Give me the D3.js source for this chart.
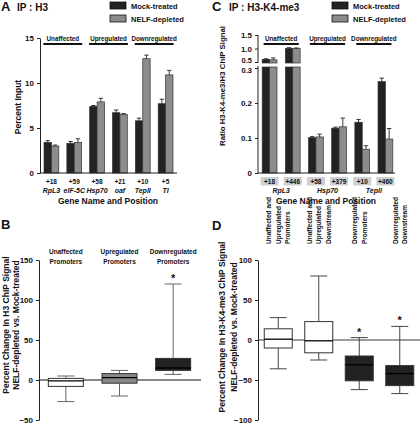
<!DOCTYPE html>
<html><head><meta charset="utf-8">
<script src="https://cdn.jsdelivr.net/npm/d3@7"></script>
<style>
body{margin:0;background:#fff;}
svg text{font-family:"Liberation Sans",Arial,Helvetica,sans-serif;font-weight:bold;fill:#111;}
</style></head>
<body><svg id="c" width="420" height="428"></svg>
<script>
// ---------- Panel A data ----------
const posA = ["+18","+59","+58","+21","+10","+5"];
const genesA = ["RpL3","eIF-5C","Hsp70","oaf","TepII","TI"];
const mockA = [3.4,3.3,7.4,6.7,5.8,7.7];
const mockErrA = [0.2,0.2,0.1,0.3,0.3,0.5];
const nelfA = [3.0,3.4,7.9,6.5,12.7,10.9];
const nelfErrA = [0.1,0.4,0.4,0.1,0.4,0.5];
const ticksA = [0,5,10,15];
const regCats = ["Unaffected","Upregulated","Downregulated"];
const regSpans = [[0,1],[2,3],[4,5]];
// ---------- Panel C data ----------
const posC = ["+18","+446","+58","+379","+10","+460"];
const genesC = ["RpL3","Hsp70","TepII"];
const mockC = [0.60,1.00,0.101,0.128,0.145,0.261];
const mockErrC = [0.02,0.03,0.003,0.003,0.008,0.01];
const nelfC = [0.58,1.00,0.103,0.132,0.068,0.097];
const nelfErrC = [0.07,0.02,0.008,0.025,0.01,0.03];
const ticksCLow = [0,0.1,0.2,0.3];
const ticksCHigh = [0.5,1.0,1.5];
// ---------- Panel B data ----------
const groupsB = [["Unaffected","Promoters"],["Upregulated","Promoters"],["Downregulated","Promoters"]];
const minB = [-27,-20,7];
const q1B = [-8,-4,12];
const medB = [-1,3,15];
const q3B = [2,8,27];
const maxB = [5,12,120];
const starB = [false,false,true];
const ticksB = [-50,0,50,100,150];
// ---------- Panel D data ----------
const groupsD = [["Unaffected and","Upregulated","Promoters"],["Unaffected and","Upregulated","Downstream"],["Downregulated","Promoters"],["Downregulated","Downstream"]];
const minD = [-36,-25,-62,-67];
const q1D = [-10,-16,-51,-57];
const medD = [1,-1,-31,-42];
const q3D = [14,23,-20,-32];
const maxD = [28,80,3,17];
const starD = [false,false,true,true];
const ticksD = [-100,-50,0,50,100];
const legendLabels = ["Mock-treated","NELF-depleted"];

const DARK = "#222", GREY = "#8c8c8c";
const svg = d3.select("#c");

function vlabel(g, lines, x0, dx, yc, size){
  lines.forEach((t,i)=>{
    g.append("text").attr("transform",`translate(${x0+i*dx},${yc}) rotate(-90)`)
     .attr("text-anchor","middle").attr("font-size",size).text(t);
  });
}
function styleAxis(ax){
  ax.selectAll("path,line").attr("stroke","#222").attr("stroke-width",1);
  ax.selectAll("text").attr("font-size",8).attr("font-family","Liberation Sans,Arial,sans-serif").attr("font-weight","bold").attr("fill","#111");
}
function legend(x, y){
  const cols=[DARK,GREY];
  legendLabels.forEach((l,i)=>{
    svg.append("rect").attr("x",x).attr("y",y+i*13).attr("width",16).attr("height",7)
      .attr("fill",cols[i]).attr("stroke","#111").attr("stroke-width",0.8);
    svg.append("text").attr("x",x+21).attr("y",y+7+i*13).attr("font-size",7.5).text(l);
  });
}
function bars(g, x, yfun, vals, errs, off, col){
  const bw=7.4;
  vals.forEach((v,i)=>{
    const cx = x(i)+off;
    yfun(g, cx-bw/2, bw, v, col);
    const top = yTop(v), et = yTop(v+errs[i]);
    g.append("line").attr("x1",cx).attr("x2",cx).attr("y1",top).attr("y2",et).attr("stroke","#222").attr("stroke-width",0.9);
    g.append("line").attr("x1",cx-2.2).attr("x2",cx+2.2).attr("y1",et).attr("y2",et).attr("stroke","#222").attr("stroke-width",0.9);
  });
}
let yTop;

// ================= Panel A =================
{
  const x = d3.scalePoint().domain(d3.range(posA.length)).range([40,177]).padding(0.5);
  const y = d3.scaleLinear().domain([0,15]).range([173,38]);
  const g = svg.append("g");
  svg.append("text").attr("x",1).attr("y",11).attr("font-size",13).text("A");
  svg.append("text").attr("x",17).attr("y",11).attr("font-size",10).text("IP : H3");
  legend(110,2);
  yTop = v=>y(v);
  const drawBar=(g,x0,w,v,col)=>g.append("rect").attr("x",x0).attr("y",y(v)).attr("width",w).attr("height",y(0)-y(v)).attr("fill",col).attr("stroke","#333").attr("stroke-width",0.7);
  bars(g,x,drawBar,mockA,mockErrA,-3.7,DARK);
  bars(g,x,drawBar,nelfA,nelfErrA,3.7,GREY);
  const ax = g.append("g").attr("transform","translate(40,0)").call(d3.axisLeft(y).tickValues(ticksA).tickSize(3).tickSizeOuter(0));
  styleAxis(ax);
  g.append("line").attr("x1",40).attr("x2",177).attr("y1",173).attr("y2",173).attr("stroke","#222");
  posA.forEach((p,i)=>{
    g.append("text").attr("x",x(i)).attr("y",184).attr("text-anchor","middle").attr("font-size",6.5).text(p);
    g.append("text").attr("x",x(i)).attr("y",193).attr("text-anchor","middle").attr("font-size",7).attr("font-style","italic").text(genesA[i]);
  });
  g.append("text").attr("x",108).attr("y",204).attr("text-anchor","middle").attr("font-size",8.5).text("Gene Name and Position");
  vlabel(g,["Percent Input"],21,0,107,8.5);
  regCats.forEach((c,i)=>{
    const a=x(regSpans[i][0])-8, b=x(regSpans[i][1])+8;
    g.append("line").attr("x1",a).attr("x2",b).attr("y1",44).attr("y2",44).attr("stroke","#111").attr("stroke-width",2);
    g.append("text").attr("x",(a+b)/2).attr("y",41).attr("text-anchor","middle").attr("font-size",6.3).text(c);
  });
}

// ================= Panel C =================
{
  const x = d3.scalePoint().domain(d3.range(posC.length)).range([258,397]).padding(0.5);
  const yL = d3.scaleLinear().domain([0,0.3]).range([173,68]);
  const yU = d3.scaleLinear().domain([0.5,1.5]).range([62,35]);
  const g = svg.append("g");
  svg.append("text").attr("x",212).attr("y",11).attr("font-size",13).text("C");
  svg.append("text").attr("x",229).attr("y",11).attr("font-size",10).text("IP : H3-K4-me3");
  legend(332,2);
  yTop = v=> v<=0.3 ? yL(v) : yU(v);
  const drawBar=(g,x0,w,v,col)=>{
    if(v<=0.3){
      g.append("rect").attr("x",x0).attr("y",yL(v)).attr("width",w).attr("height",yL(0)-yL(v)).attr("fill",col).attr("stroke","#333").attr("stroke-width",0.7);
    } else {
      g.append("rect").attr("x",x0).attr("y",yL(0.3)-1).attr("width",w).attr("height",yL(0)-yL(0.3)+1).attr("fill",col).attr("stroke","#333").attr("stroke-width",0.7);
      g.append("rect").attr("x",x0).attr("y",yU(v)).attr("width",w).attr("height",yU(0.5)-yU(v)+1).attr("fill",col).attr("stroke","#333").attr("stroke-width",0.7);
    }
  };
  bars(g,x,drawBar,mockC,mockErrC,-3.7,DARK);
  bars(g,x,drawBar,nelfC,nelfErrC,3.7,GREY);
  const fmt = d=> d===0?"0":d3.format(".1f")(d);
  const ax1 = g.append("g").attr("transform","translate(258,0)").call(d3.axisLeft(yL).tickValues(ticksCLow).tickFormat(fmt).tickSize(3).tickSizeOuter(0));
  styleAxis(ax1);
  ax1.select(".domain").attr("d","M0,173V66");
  ax1.selectAll(".tick text").filter(d=>d===0.3).attr("dy","0.55em").attr("font-size",7.5);
  const ax2 = g.append("g").attr("transform","translate(258,0)").call(d3.axisLeft(yU).tickValues(ticksCHigh).tickFormat(fmt).tickSize(3).tickSizeOuter(0));
  styleAxis(ax2);
  ax2.select(".domain").attr("d","M0,63V35");
  ax2.selectAll(".tick text").filter(d=>d===0.5).attr("dy","0.1em").attr("font-size",7.5);
  g.append("line").attr("x1",258).attr("x2",395).attr("y1",173).attr("y2",173).attr("stroke","#222");
  posC.forEach((p,i)=>{
    g.append("rect").attr("x",x(i)-9).attr("y",177).attr("width",18).attr("height",8.5).attr("fill","#cfcfcf");
    g.append("text").attr("x",x(i)).attr("y",184).attr("text-anchor","middle").attr("font-size",6.5).text(p);
  });
  genesC.forEach((gn,i)=>{
    const cx=(x(2*i)+x(2*i+1))/2;
    g.append("text").attr("x",cx).attr("y",193).attr("text-anchor","middle").attr("font-size",7).attr("font-style","italic").text(gn);
  });
  g.append("text").attr("x",326).attr("y",204).attr("text-anchor","middle").attr("font-size",8.5).text("Gene Name and Position");
  vlabel(g,["Ratio H3-K4-me3/H3 ChIP Signal"],225,0,86,7.8);
  regCats.forEach((c,i)=>{
    const a=x(regSpans[i][0])-6, b=x(regSpans[i][1])+6;
    g.append("line").attr("x1",a).attr("x2",b).attr("y1",44).attr("y2",44).attr("stroke","#111").attr("stroke-width",2);
    g.append("text").attr("x",(a+b)/2).attr("y",41).attr("text-anchor","middle").attr("font-size",6.3).text(c);
  });
}

function boxes(g, x, y, mins, q1s, meds, q3s, maxs, fills, bw, capw, wcol, stars){
  mins.forEach((mn,i)=>{
    const cx=x(i);
    g.append("line").attr("x1",cx).attr("x2",cx).attr("y1",y(mn)).attr("y2",y(q1s[i])).attr("stroke",wcol).attr("stroke-width",1);
    g.append("line").attr("x1",cx).attr("x2",cx).attr("y1",y(q3s[i])).attr("y2",y(maxs[i])).attr("stroke",wcol).attr("stroke-width",1);
    [mn,maxs[i]].forEach(v=>g.append("line").attr("x1",cx-capw/2).attr("x2",cx+capw/2).attr("y1",y(v)).attr("y2",y(v)).attr("stroke",wcol).attr("stroke-width",1));
    g.append("rect").attr("x",cx-bw/2).attr("y",y(q3s[i])).attr("width",bw).attr("height",y(q1s[i])-y(q3s[i])).attr("fill",fills[i]).attr("stroke","#333").attr("stroke-width",1);
    g.append("line").attr("x1",cx-bw/2).attr("x2",cx+bw/2).attr("y1",y(meds[i])).attr("y2",y(meds[i])).attr("stroke","#000").attr("stroke-width",1.3);
    if(stars[i]) g.append("text").attr("x",cx).attr("y",y(maxs[i])-2).attr("text-anchor","middle").attr("font-size",11).text("*");
  });
}

// ================= Panel B =================
{
  const x = d3.scalePoint().domain(d3.range(groupsB.length)).range([39,200]).padding(0.5);
  const y = d3.scaleLinear().domain([-50,150]).range([420,260]);
  const g = svg.append("g");
  svg.append("text").attr("x",1).attr("y",229).attr("font-size",13).text("B");
  g.append("line").attr("x1",39).attr("x2",201).attr("y1",y(0)).attr("y2",y(0)).attr("stroke","#888").attr("stroke-width",1.8);
  boxes(g,x,y,minB,q1B,medB,q3B,maxB,["#fff","#888",DARK],35,17,"#666",starB);
  const ax = g.append("g").attr("transform","translate(39,0)").call(d3.axisLeft(y).tickValues(ticksB).tickSize(3).tickSizeOuter(0));
  styleAxis(ax);
  groupsB.forEach((lines,i)=>lines.forEach((t,j)=>
    g.append("text").attr("x",x(i)).attr("y",254+j*9.5).attr("text-anchor","middle").attr("font-size",6.5).text(t)));
  vlabel(g,["Percent Change In H3 ChIP Signal","NELF-depleted vs. Mock-treated"],9,10,325,8.5);
}

// ================= Panel D =================
{
  const x = d3.scalePoint().domain(d3.range(groupsD.length)).range([258,420]).padding(0.5);
  const y = d3.scaleLinear().domain([-100,100]).range([420,260]);
  const g = svg.append("g");
  svg.append("text").attr("x",212).attr("y",230).attr("font-size",13).text("D");
  g.append("line").attr("x1",258).attr("x2",420).attr("y1",y(0)).attr("y2",y(0)).attr("stroke","#222").attr("stroke-width",0.9);
  boxes(g,x,y,minD,q1D,medD,q3D,maxD,["#fff","#fff",DARK,DARK],28,17,"#444",starD);
  const ax = g.append("g").attr("transform","translate(258,0)").call(d3.axisLeft(y).tickValues(ticksD).tickSize(3).tickSizeOuter(0));
  styleAxis(ax);
  groupsD.forEach((lines,i)=>lines.forEach((t,j)=>
    g.append("text").attr("transform",`translate(${x(i)+2.5+(j-(lines.length-1)/2)*9.5},244) rotate(-90)`).attr("text-anchor","start").attr("font-size",6.5).text(t)));
  vlabel(g,["Percent Change In H3-K4-me3 ChIP Signal","NELF-depleted vs. Mock-treated"],225,12,327,8.5);
}
</script></body></html>
